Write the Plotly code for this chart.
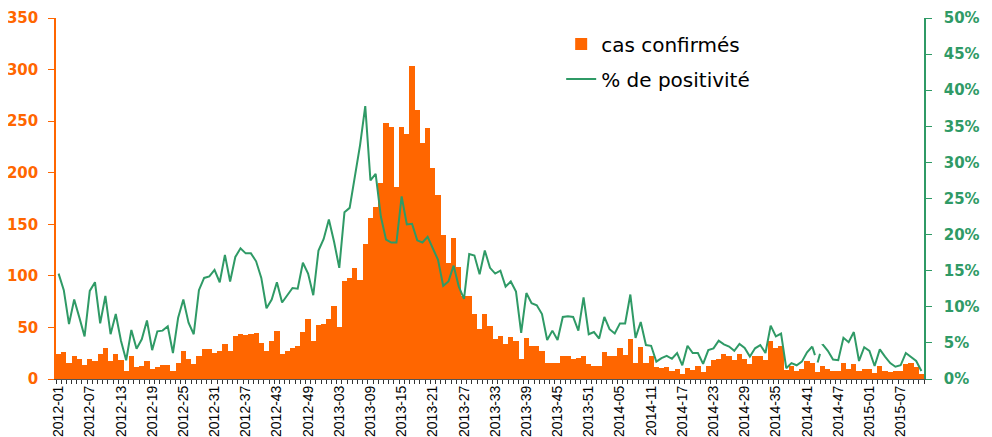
import plotly.graph_objects as go

# ---- data ----
years = [2012, 2013, 2014, 2015]
weeks_per_year = [52, 52, 52, 11]
categories = [f"{y}-{w:02d}" for y, n in zip(years, weeks_per_year) for w in range(1, n + 1)]
tick_labels = [c if i % 6 == 0 else "" for i, c in enumerate(categories)]

cas_confirmes = [
    24, 26, 16, 22, 19, 14, 19, 17, 24, 30,
    17, 24, 18, 8, 22, 12, 13, 17, 10, 12,
    14, 14, 8, 16, 27, 19, 15, 22, 29, 29,
    25, 27, 34, 27, 42, 44, 43, 44, 45, 35,
    27, 37, 47, 24, 27, 30, 32, 46, 58, 37,
    52, 53, 58, 71, 50, 95, 98, 108, 96, 131,
    156, 167, 190, 248, 244, 186, 244, 238, 303, 261,
    229, 243, 205, 178, 140, 112, 137, 109, 80, 80,
    63, 48, 63, 51, 39, 42, 34, 41, 37, 19,
    40, 32, 32, 27, 16, 16, 16, 22, 22, 19,
    20, 22, 15, 13, 13, 26, 22, 22, 30, 23,
    39, 16, 31, 16, 22, 12, 11, 12, 8, 10,
    5, 11, 9, 13, 7, 13, 18, 19, 24, 22,
    18, 24, 19, 15, 22, 22, 18, 37, 30, 32,
    9, 13, 8, 10, 17, 16, 7, 13, 10, 8,
    8, 16, 10, 15, 8, 10, 10, 6, 13, 8,
    7, 8, 8, 15, 16, 12, 5,
]

positivite = [
    14.6, 12.3, 7.6, 11.0, 8.5, 5.9, 12.2, 13.4, 7.7, 11.5,
    6.2, 9.0, 5.3, 2.6, 6.8, 4.2, 5.5, 8.1, 4.0, 6.6,
    6.7, 7.3, 3.6, 8.5, 11.0, 7.8, 6.2, 12.3, 14.0, 14.2,
    15.1, 13.4, 17.2, 13.5, 16.9, 18.1, 17.4, 17.4, 16.3, 14.0,
    9.8, 11.0, 13.4, 10.6, 11.6, 12.6, 12.5, 16.1, 14.6, 11.6,
    17.8, 19.4, 22.1, 19.0, 15.4, 23.1, 23.7, 28.3, 32.4, 37.8,
    27.5, 28.4, 22.5, 19.3, 18.9, 18.9, 25.3, 21.4, 21.5, 19.2,
    18.9, 19.7, 18.2, 16.5, 12.9, 13.5, 15.7, 12.8, 11.1, 17.3,
    17.1, 14.5, 17.8, 15.4, 14.6, 15.0, 12.8, 13.5, 12.1, 6.4,
    11.9, 10.5, 10.2, 9.0, 5.4, 6.7, 5.4, 8.6, 8.7, 8.6,
    6.7, 11.3, 6.2, 6.5, 5.6, 8.6, 6.9, 6.3, 7.7, 7.7,
    11.7, 5.7, 7.9, 4.7, 4.6, 2.4, 2.9, 3.2, 2.8, 3.6,
    1.9, 4.6, 3.6, 3.6, 2.1, 4.0, 4.25, 5.3, 4.8, 4.5,
    3.9, 4.85, 4.3, 3.1, 4.25, 4.7, 3.6, 7.4, 5.9, 6.3,
    1.5, 2.2, 1.9, 2.4, 3.7, 4.5, 2.2, 4.8, 3.9, 2.7,
    2.6, 5.7, 5.1, 6.5, 2.5, 4.4, 3.9, 1.8, 4.1, 3.1,
    2.2, 1.7, 1.9, 3.6, 3.1, 2.5, 1.1,
]

dashed_index = 146  # uncertain week drawn with dashed segments

ORANGE = "#FF6600"
GREEN = "#2F9A66"

solid = [None if i == dashed_index else v for i, v in enumerate(positivite)]
dash_x = categories[dashed_index - 1:dashed_index + 2]
dash_y = positivite[dashed_index - 1:dashed_index + 2]

fig = go.Figure()
fig.add_bar(
    x=categories, y=cas_confirmes, name="cas confirmés",
    marker=dict(color=ORANGE, line=dict(width=0)),
    yaxis="y", legendgroup="a",
)
fig.add_scatter(
    x=categories, y=solid, mode="lines", name="% de positivité",
    line=dict(color=GREEN, width=2), yaxis="y2", legendgroup="b",
)
fig.add_scatter(
    x=dash_x, y=dash_y, mode="lines", showlegend=False,
    line=dict(color=GREEN, width=2, dash="dash"), yaxis="y2", legendgroup="b",
)

axis_font_bold = dict(family="DejaVu Sans", size=15, weight="bold")

# the page body adds an 8px margin, so the figure is 8px smaller on each axis
fig.update_layout(
    width=984, height=429,
    margin=dict(l=48, r=68, t=10, b=58),
    paper_bgcolor="white", plot_bgcolor="white",
    bargap=0,
    showlegend=True,
    font=dict(family="DejaVu Sans", color="black"),
    xaxis=dict(
        type="category", categoryorder="array", categoryarray=categories,
        tickmode="array", tickvals=categories, ticktext=tick_labels,
        tickangle=-90, tickson="boundaries", ticks="outside", ticklen=4,
        tickcolor="#333333", showline=True, linecolor="#555555", linewidth=1,
        tickfont=dict(family="Liberation Sans", size=14, color="black"),
        showgrid=False, range=[-0.5, len(categories) - 0.5], automargin=False,
    ),
    yaxis=dict(
        range=[0, 350], dtick=50, showline=True, linecolor=ORANGE, linewidth=1.5,
        ticks="outside", ticklen=6, tickcolor=ORANGE,
        tickfont=dict(axis_font_bold, color=ORANGE),
        showgrid=False, zeroline=False, ticklabelstandoff=7, automargin=False,
    ),
    yaxis2=dict(
        overlaying="y", side="right", range=[0, 50], dtick=5, ticksuffix="%",
        showline=True, linecolor=GREEN, linewidth=1.5,
        ticks="outside", ticklen=6, tickcolor=GREEN,
        tickfont=dict(axis_font_bold, color=GREEN),
        showgrid=False, zeroline=False, ticklabelstandoff=9, automargin=False,
    ),
    yaxis3=dict(
        overlaying="y", side="right", range=[0, 50], dtick=5,
        ticks="inside", ticklen=6, tickcolor=GREEN, showticklabels=False,
        showline=False, showgrid=False, zeroline=False, automargin=False,
    ),
    legend=dict(
        x=0.582, y=0.982, xanchor="left", yanchor="top",
        font=dict(family="DejaVu Sans", size=20, color="black"),
        bgcolor="rgba(0,0,0,0)", tracegroupgap=6, itemwidth=30,
    ),
)

fig.write_html("out.html")
